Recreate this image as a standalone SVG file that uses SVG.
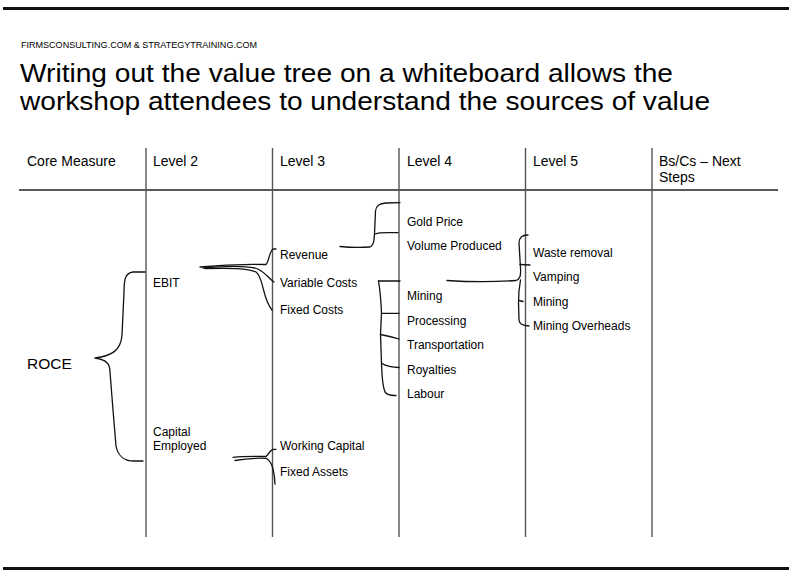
<svg xmlns="http://www.w3.org/2000/svg" width="791" height="573" viewBox="0 0 791 573">
<style>
text{font-family:"Liberation Sans",Arial,sans-serif;fill:#000}
.hd{font-size:14px}
.it{font-size:12px}
.col{stroke:#555;stroke-width:1.4;fill:none}
.br{stroke:#111;stroke-width:1.3;fill:none;stroke-linecap:round;stroke-linejoin:round}
</style>
<rect width="791" height="573" fill="#fff"/>
<line x1="3" y1="8.5" x2="789" y2="8.5" stroke="#111" stroke-width="3"/>
<line x1="3" y1="568.5" x2="789" y2="568.5" stroke="#111" stroke-width="3"/>
<text x="21" y="47.5" font-size="9" textLength="236" lengthAdjust="spacingAndGlyphs">FIRMSCONSULTING.COM &amp; STRATEGYTRAINING.COM</text>
<text x="20" y="81.5" font-size="26.5" textLength="653" lengthAdjust="spacingAndGlyphs">Writing out the value tree on a whiteboard allows the</text>
<text x="20" y="110" font-size="26.5" textLength="690" lengthAdjust="spacingAndGlyphs">workshop attendees to understand the sources of value</text>
<g id="grid">
<line x1="19" y1="190" x2="778" y2="190" stroke="#222" stroke-width="1.3"/>
<line class="col" x1="146" y1="148" x2="146" y2="537"/>
<line class="col" x1="272.5" y1="148" x2="272.5" y2="537"/>
<line class="col" x1="399" y1="148" x2="399" y2="537"/>
<line class="col" x1="525.5" y1="148" x2="525.5" y2="537"/>
<line class="col" x1="652" y1="148" x2="652" y2="537"/>
</g>
<g id="headers">
<text class="hd" x="27" y="166">Core Measure</text>
<text class="hd" x="153" y="166">Level 2</text>
<text class="hd" x="280" y="166">Level 3</text>
<text class="hd" x="407" y="166">Level 4</text>
<text class="hd" x="533" y="166">Level 5</text>
<text class="hd" x="659" y="166">Bs/Cs – Next</text>
<text class="hd" x="659" y="182">Steps</text>
</g>
<g id="roce"><text x="27" y="369" font-size="15.5">ROCE</text></g>
<g id="ebit"><text class="it" x="153" y="287">EBIT</text></g>
<g id="capital-employed"><text class="it" x="153" y="436">Capital</text><text class="it" x="153" y="449.5">Employed</text></g>
<g id="revenue"><text class="it" x="280" y="259">Revenue</text></g>
<g id="variable-costs"><text class="it" x="280" y="286.5">Variable Costs</text></g>
<g id="fixed-costs"><text class="it" x="280" y="313.5">Fixed Costs</text></g>
<g id="working-capital"><text class="it" x="280" y="449.5">Working Capital</text></g>
<g id="fixed-assets"><text class="it" x="280" y="476">Fixed Assets</text></g>
<g id="gold-price"><text class="it" x="407" y="226">Gold Price</text></g>
<g id="volume-produced"><text class="it" x="407" y="250">Volume Produced</text></g>
<g id="mining-l4"><text class="it" x="407" y="300">Mining</text></g>
<g id="processing"><text class="it" x="407" y="324.5">Processing</text></g>
<g id="transportation"><text class="it" x="407" y="349">Transportation</text></g>
<g id="royalties"><text class="it" x="407" y="373.5">Royalties</text></g>
<g id="labour"><text class="it" x="407" y="398">Labour</text></g>
<g id="waste-removal"><text class="it" x="533" y="256.5">Waste removal</text></g>
<g id="vamping"><text class="it" x="533" y="281">Vamping</text></g>
<g id="mining-l5"><text class="it" x="533" y="305.5">Mining</text></g>
<g id="mining-overheads"><text class="it" x="533" y="330">Mining Overheads</text></g>
<g id="connectors">
<path class="br" d="M145 272 L133 272 C125 273 124 280 124 292 L122 335 C121 350 112 356 95 358 C107 360 110 364 110 372 L113 410 L116 446 C118 457 126 461 134 461 L143 461"/>
<path class="br" d="M200 267 C220 265 245 264 266 264.5 C269 262 269 252 273 249 L276 249"/>
<path class="br" d="M203 268 C225 266 245 266 255 268 C265 271 268 278 274 282"/>
<path class="br" d="M205 268.5 C230 268 248 268 256 272 C264 278 262 298 272 310"/>
<path class="br" d="M233 457.3 C245 456 258 456.5 266 456.5 C269 454 269 451 273 449.3 L276 449.3"/>
<path class="br" d="M235 460.5 C247 458.5 258 458 266 458.3 C271 461 274 467 275 484"/>
<path class="br" d="M340 246.5 C350 247.5 362 247.5 370 247 C374 245 374 240 374.5 234 L375.5 211 C376 205 380 203.5 386 203 L400 202.7"/>
<path class="br" d="M375 234 C378 233 382 232.7 388 232.7 L398 232.7"/>
<path class="br" d="M378.5 281 L400 281"/>
<path class="br" d="M378.5 281 C380 290 381 300 381.5 313 L380.5 335 L381.5 363 C382 375 382 385 385 392 C388 396 392 395.5 396 395.5"/>
<path class="br" d="M381.5 313.3 L399 313.3"/>
<path class="br" d="M380.5 334.5 C388 336 394 337.5 399 339"/>
<path class="br" d="M381.5 363.3 C386 366 392 367.5 399 367.5"/>
<path class="br" d="M447 280.5 C470 282 495 282 516 280.5 C520 279 521 276 520.5 268 L519 243 C519.5 237 522 235 528 235"/>
<path class="br" d="M520 264.5 L530 265"/>
<path class="br" d="M520.5 280 C519 288 518.5 296 518.5 302 L519 320 C519.5 324 522 325.5 529 326"/>
<path class="br" d="M519 300.5 L523 301.5"/>
</g>
</svg>
